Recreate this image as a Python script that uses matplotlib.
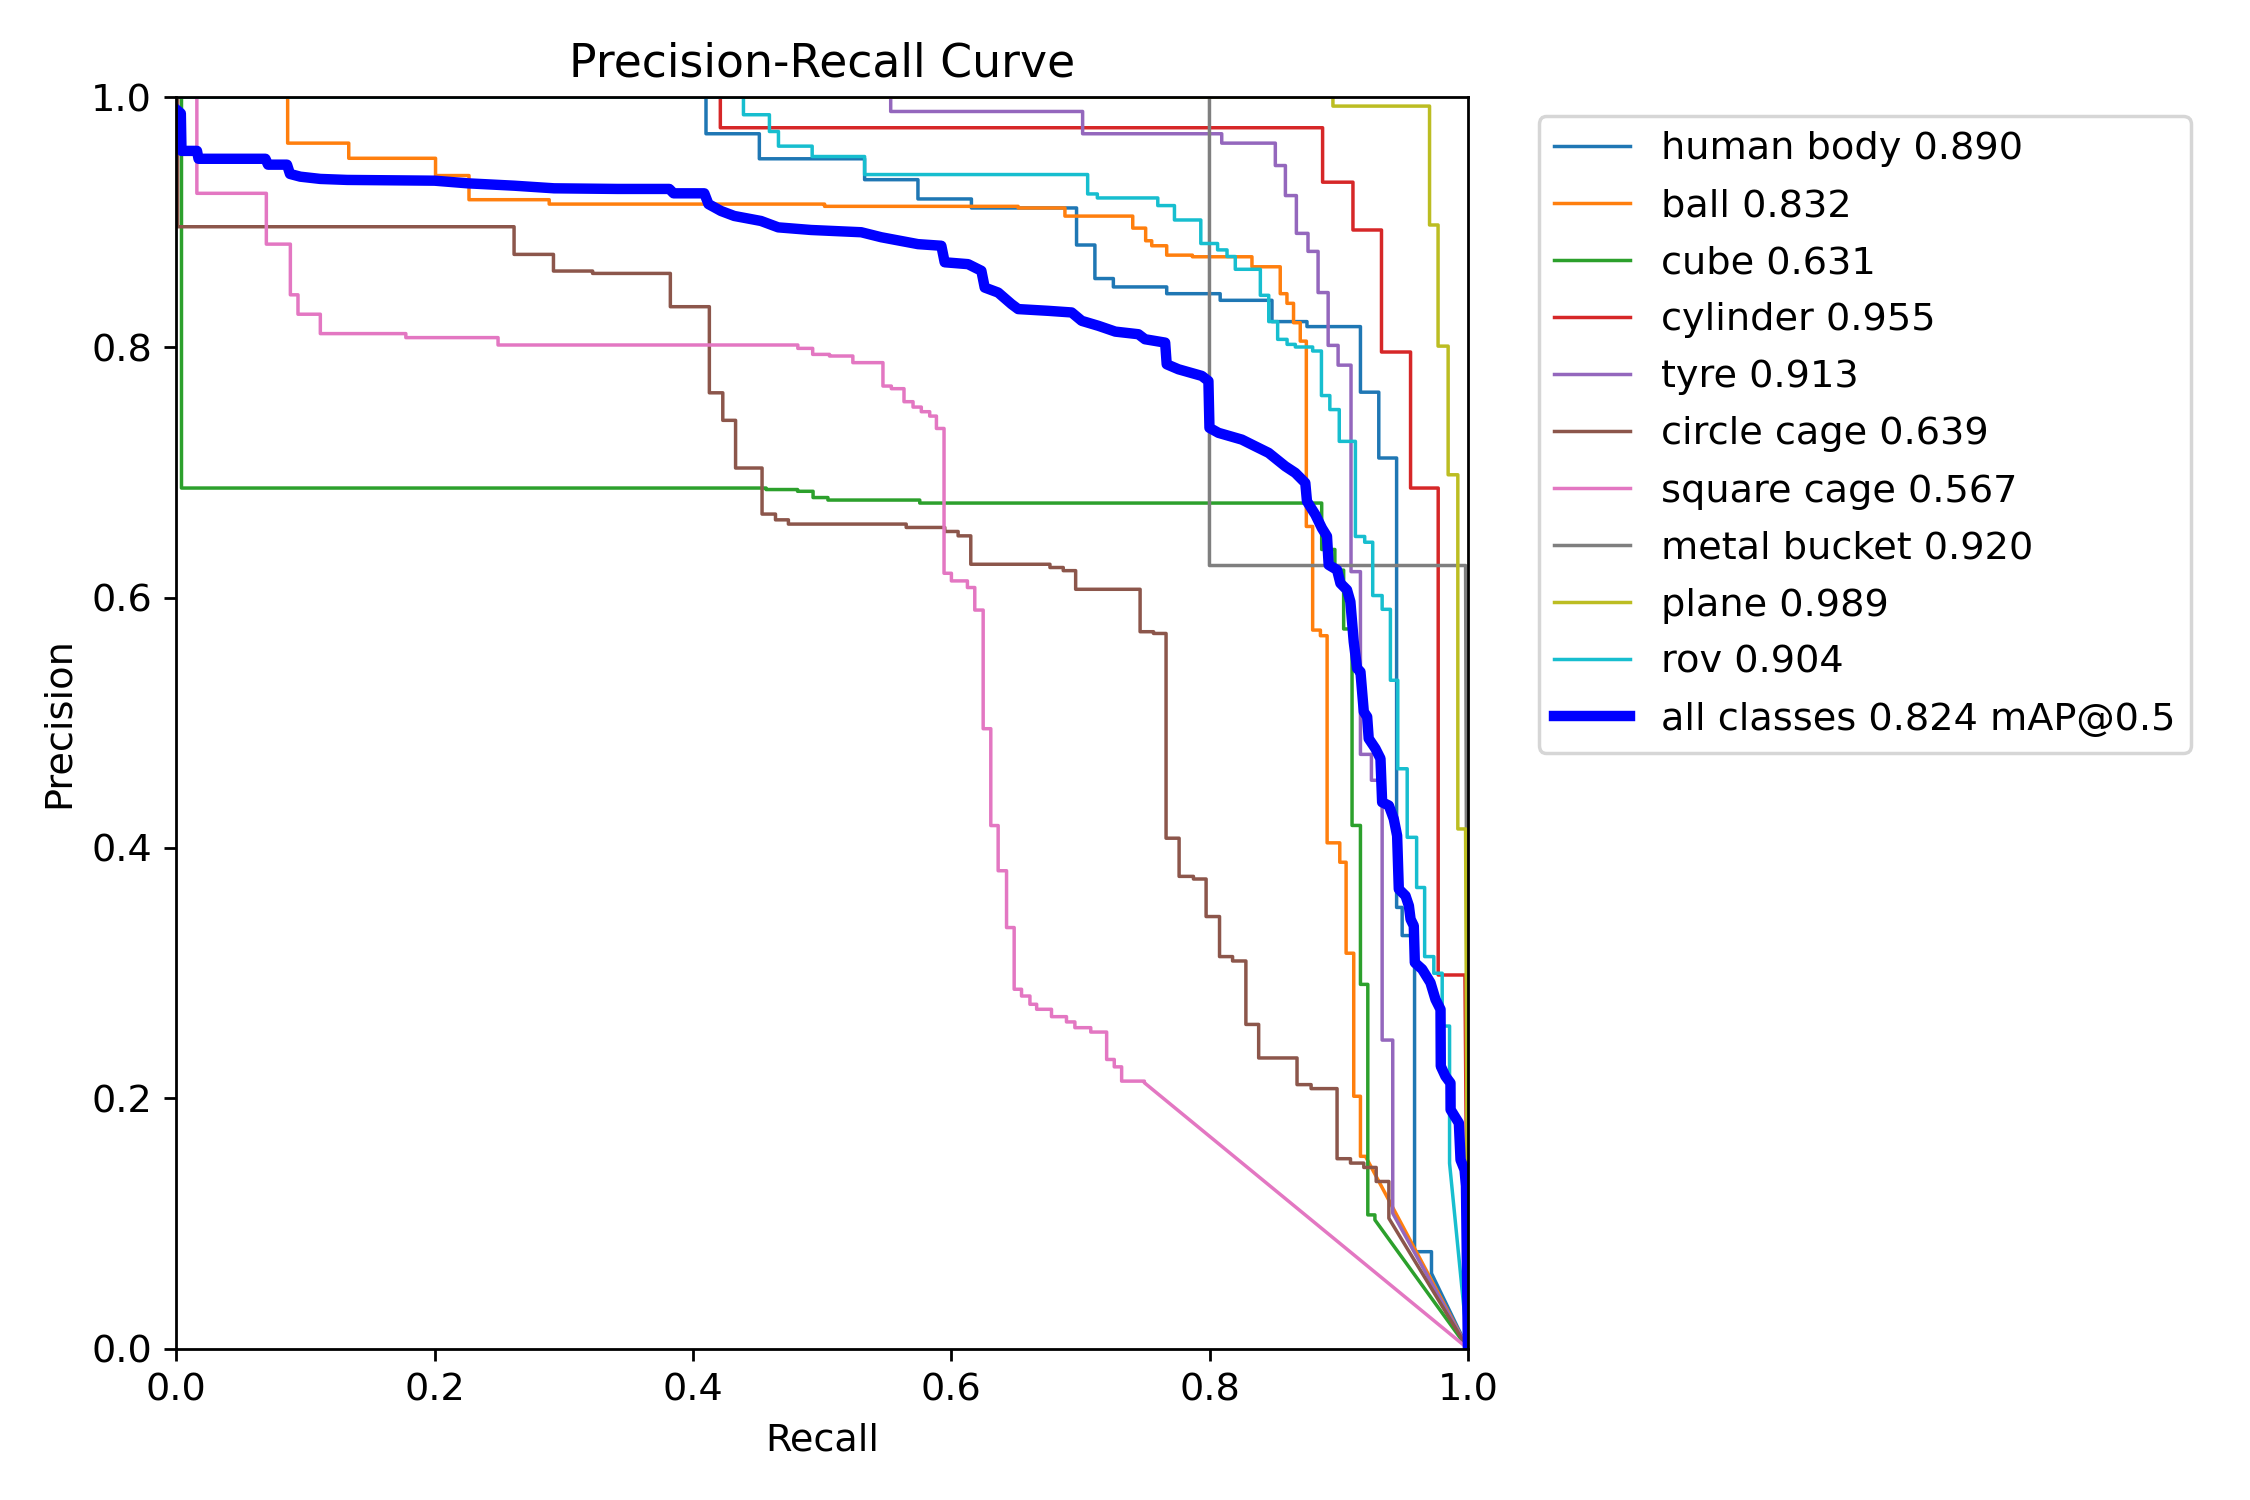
import matplotlib
matplotlib.use("Agg")
import matplotlib.pyplot as plt

plt.rcParams["font.size"] = 11

# ===============================
# DATA
# recall where the precision drops, and precision after the drop
# ===============================
names = ["human body", "ball", "cube", "cylinder", "tyre", "circle cage",
         "square cage", "metal bucket", "plane", "rov"]
ap50 = [0.890, 0.832, 0.631, 0.955, 0.913, 0.639, 0.567, 0.920, 0.989, 0.904]
map50 = 0.824

human_body_r = [0.4101, 0.4514, 0.5329, 0.5742, 0.6156, 0.6970, 0.7112, 0.7255, 0.7668,
                0.8082, 0.8483, 0.8754, 0.9168, 0.9310, 0.9448, 0.9491, 0.9587, 0.9718]
human_body_p = [0.9707, 0.9507, 0.9340, 0.9186, 0.9114, 0.8818, 0.8550, 0.8483, 0.8429,
                0.8376, 0.8206, 0.8166, 0.7642, 0.7116, 0.3525, 0.3300, 0.0774, 0.0601]

ball_r = [0.0862, 0.1335, 0.2007, 0.2266, 0.2887, 0.5019, 0.6518, 0.6880, 0.7405,
          0.7505, 0.7552, 0.7668, 0.7867, 0.8328, 0.8547, 0.8599, 0.8650, 0.8702,
          0.8749, 0.8798, 0.8858, 0.8910, 0.9008, 0.9057, 0.9116, 0.9168, 0.9207]
ball_p = [0.9632, 0.9511, 0.9373, 0.9180, 0.9145, 0.9127, 0.9114, 0.9049, 0.8953,
          0.8852, 0.8812, 0.8737, 0.8724, 0.8644, 0.8429, 0.8352, 0.8197, 0.8050,
          0.6569, 0.5741, 0.5696, 0.4041, 0.3886, 0.3159, 0.2016, 0.1536, 0.1536]

cube_r = [0.0040, 0.4566, 0.4810, 0.4930, 0.5045, 0.5756, 0.8868, 0.8970, 0.9038,
          0.9103, 0.9168, 0.9225, 0.9280]
cube_p = [0.6876, 0.6864, 0.6850, 0.6800, 0.6780, 0.6756, 0.6385, 0.6220, 0.5750,
          0.4180, 0.2910, 0.1068, 0.1028]

cylinder_r = [0.4212, 0.8875, 0.9110, 0.9331, 0.9556, 0.9770, 0.9977]
cylinder_p = [0.9755, 0.9320, 0.8938, 0.7963, 0.6876, 0.2985, 0.2985]

tyre_r = [0.5531, 0.7017, 0.8094, 0.8509, 0.8587, 0.8672, 0.8762, 0.8840, 0.8918,
          0.8995, 0.9095, 0.9168, 0.9253, 0.9336, 0.9418]
tyre_p = [0.9885, 0.9707, 0.9632, 0.9453, 0.9213, 0.8911, 0.8767, 0.8438, 0.8016,
          0.7858, 0.6208, 0.4748, 0.4541, 0.2465, 0.1081]

circle_cage_r = [0.0010, 0.2615, 0.2920, 0.3223, 0.3825, 0.4127, 0.4231, 0.4330, 0.4535,
                 0.4639, 0.4739, 0.5651, 0.5950, 0.6053, 0.6151, 0.6764, 0.6867, 0.6963,
                 0.7462, 0.7566, 0.7663, 0.7764, 0.7875, 0.7973, 0.8077, 0.8178, 0.8281,
                 0.8380, 0.8677, 0.8786, 0.8987, 0.9091, 0.9194, 0.9290, 0.9388]
circle_cage_p = [0.8964, 0.8743, 0.8610, 0.8591, 0.8325, 0.7637, 0.7417, 0.7036, 0.6668,
                 0.6622, 0.6588, 0.6561, 0.6529, 0.6494, 0.6267, 0.6241, 0.6216, 0.6067,
                 0.5728, 0.5714, 0.4078, 0.3773, 0.3752, 0.3452, 0.3132, 0.3097, 0.2590,
                 0.2322, 0.2109, 0.2077, 0.1517, 0.1482, 0.1447, 0.1335, 0.1041]

square_cage_r = [0.0159, 0.0697, 0.0883, 0.0942, 0.1115, 0.1777, 0.2491, 0.4812, 0.4927,
                 0.5057, 0.5238, 0.5471, 0.5536, 0.5634, 0.5704, 0.5768, 0.5833, 0.5885,
                 0.5944, 0.6001, 0.6125, 0.6182, 0.6247, 0.6306, 0.6363, 0.6428, 0.6487,
                 0.6544, 0.6609, 0.6661, 0.6776, 0.6892, 0.6957, 0.7080, 0.7203, 0.7262,
                 0.7319, 0.7495]
square_cage_p = [0.9231, 0.8825, 0.8420, 0.8265, 0.8110, 0.8078, 0.8019, 0.7992, 0.7944,
                 0.7931, 0.7878, 0.7691, 0.7670, 0.7566, 0.7523, 0.7486, 0.7451, 0.7352,
                 0.6195, 0.6134, 0.6081, 0.5901, 0.4953, 0.4179, 0.3818, 0.3364, 0.2871,
                 0.2817, 0.2751, 0.2711, 0.2652, 0.2610, 0.2564, 0.2529, 0.2310, 0.2251,
                 0.2137, 0.2124]

metal_bucket_r = [0.7999, 0.9982]
metal_bucket_p = [0.6257, 0.6257]

plane_r = [0.8955, 0.9703, 0.9769, 0.9847, 0.9922, 0.9982]
plane_p = [0.9928, 0.8978, 0.8010, 0.6982, 0.4152, 0.4152]

rov_r = [0.4391, 0.4592, 0.4662, 0.4923, 0.5329, 0.7056, 0.7131, 0.7599, 0.7728,
         0.7932, 0.8062, 0.8135, 0.8199, 0.8393, 0.8458, 0.8527, 0.8600, 0.8664,
         0.8798, 0.8866, 0.8931, 0.9004, 0.9129, 0.9201, 0.9263, 0.9336, 0.9400,
         0.9457, 0.9530, 0.9603, 0.9665, 0.9736, 0.9801, 0.9858]
rov_p = [0.9859, 0.9725, 0.9608, 0.9525, 0.9381, 0.9226, 0.9194, 0.9133, 0.9018,
         0.8830, 0.8779, 0.8726, 0.8624, 0.8416, 0.8206, 0.8064, 0.8024, 0.8003,
         0.7971, 0.7615, 0.7503, 0.7249, 0.6489, 0.6443, 0.6017, 0.5907, 0.5340,
         0.4633, 0.4085, 0.3684, 0.3132, 0.2999, 0.2577, 0.1480]

# mean curve over all classes (polyline)
all_r = [0.0, 0.0035, 0.0040, 0.0160, 0.0172, 0.0690, 0.0710, 0.0857, 0.0880, 0.0960,
         0.1115, 0.1323, 0.2000, 0.2253, 0.2615, 0.2925, 0.3416, 0.3817, 0.3850, 0.4088,
         0.4120, 0.4217, 0.4320, 0.4527, 0.4660, 0.4915, 0.5303, 0.5458, 0.5742, 0.5923,
         0.5949, 0.6130, 0.6233, 0.6259, 0.6363, 0.6466, 0.6518, 0.6751, 0.6932, 0.7010,
         0.7140, 0.7270, 0.7449, 0.7500, 0.7656, 0.7668, 0.7759, 0.7940, 0.7991, 0.7999,
         0.8069, 0.8250, 0.8353, 0.8457, 0.8586, 0.8664, 0.8741, 0.8754, 0.8819, 0.8870,
         0.8909, 0.8922, 0.8987, 0.9013, 0.9064, 0.9090, 0.9116, 0.9142, 0.9168, 0.9194,
         0.9220, 0.9232, 0.9284, 0.9323, 0.9336, 0.9388, 0.9426, 0.9452, 0.9465, 0.9517,
         0.9543, 0.9556, 0.9581, 0.9589, 0.9646, 0.9710, 0.9749, 0.9788, 0.9790, 0.9826,
         0.9865, 0.9866, 0.9930, 0.9943, 0.9974, 0.9985, 1.0]
all_p = [0.990, 0.987, 0.957, 0.957, 0.9507, 0.9507, 0.9460, 0.9460, 0.9386, 0.9364,
         0.9346, 0.9338, 0.9332, 0.9311, 0.9292, 0.9271, 0.9266, 0.9266, 0.9231, 0.9231,
         0.9145, 0.9090, 0.9050, 0.9010, 0.8959, 0.8938, 0.8920, 0.8880, 0.8825, 0.8812,
         0.8680, 0.8665, 0.8612, 0.8478, 0.8438, 0.8346, 0.8306, 0.8292, 0.8279, 0.8212,
         0.8172, 0.8126, 0.8105, 0.8065, 0.8038, 0.7865, 0.7825, 0.7772, 0.7731, 0.7357,
         0.7317, 0.7263, 0.7210, 0.7157, 0.7050, 0.6997, 0.6917, 0.6770, 0.6663, 0.6555,
         0.6490, 0.6262, 0.6222, 0.6115, 0.6062, 0.5968, 0.5648, 0.5434, 0.5408, 0.5088,
         0.5048, 0.4874, 0.4794, 0.4714, 0.4365, 0.4339, 0.4232, 0.4098, 0.3671, 0.3618,
         0.3538, 0.3431, 0.3378, 0.3084, 0.3031, 0.2924, 0.2790, 0.2710, 0.2256, 0.2176,
         0.2122, 0.1909, 0.1802, 0.1508, 0.1428, 0.1300, 0.0]

class_recalls = [human_body_r, ball_r, cube_r, cylinder_r, tyre_r, circle_cage_r,
                 square_cage_r, metal_bucket_r, plane_r, rov_r]
class_precisions = [human_body_p, ball_p, cube_p, cylinder_p, tyre_p, circle_cage_p,
                    square_cage_p, metal_bucket_p, plane_p, rov_p]


def stairs(rec, prec):
    # start at (0, 1), drop vertically at each recall, finish straight to (1, 0)
    xs, ys = [0.0], [1.0]
    for r, p in zip(rec, prec):
        xs += [r, r]
        ys += [ys[-1], p]
    xs.append(1.0)
    ys.append(0.0)
    return xs, ys


# ===============================
# PLOT
# ===============================
fig, ax = plt.subplots(1, 1, figsize=(9, 6), tight_layout=True)

for name, ap, rec, prec in zip(names, ap50, class_recalls, class_precisions):
    xs, ys = stairs(rec, prec)
    ax.plot(xs, ys, linewidth=1, label=f"{name} {ap:.3f}")

ax.plot(all_r, all_p, linewidth=3, color="blue", label=f"all classes {map50:.3f} mAP@0.5")

ax.set_xlabel("Recall")
ax.set_ylabel("Precision")
ax.set_xlim(0, 1)
ax.set_ylim(0, 1)
ax.legend(bbox_to_anchor=(1.04, 1), loc="upper left", labelspacing=0.55)
ax.set_title("Precision-Recall Curve")

fig.savefig("out.png", dpi=250)
